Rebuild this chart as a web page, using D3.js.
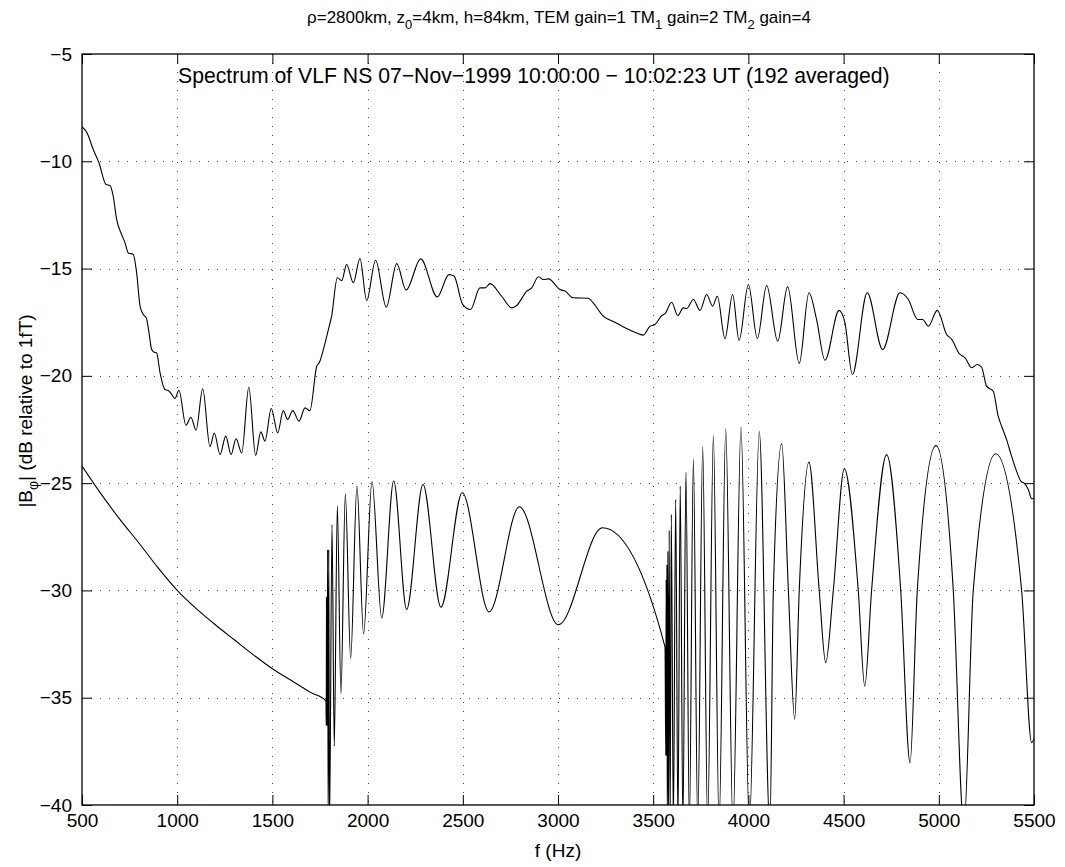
<!DOCTYPE html>
<html>
<head>
<meta charset="utf-8">
<script src="https://cdn.jsdelivr.net/npm/d3@7"></script>
<style>
  body { margin: 0; background: #fff; }
  text { font-family: "Liberation Sans", Arial, Helvetica, sans-serif; fill: #000; }
</style>
</head>
<body>
<div id="canvas"></div>
<script>
"use strict"

/* Measured VLF spectrum: [frequency (Hz), |B_phi| (dB relative to 1fT)] */
let measuredSpectrum = [
  [500, -8.39], [528, -8.7], [559, -9.45], [589, -10.07], [626, -11.08], [647, -11.13],
  [664, -11.63], [682, -12.71], [708, -13.41], [726, -13.8], [743, -14.27], [769, -14.34],
  [787, -15.2], [805, -16.75], [822, -17.14], [838, -17.3], [852, -18.0], [866, -18.77],
  [880, -18.9], [892, -18.93], [910, -19.86], [936, -20.64], [953, -20.68], [970, -20.85],
  [988, -21.06], [1009, -20.67], [1046, -22.3], [1072, -21.93], [1099, -22.53], [1134, -20.6],
  [1172, -23.3], [1195, -22.66], [1225, -23.67], [1255, -22.81], [1283, -23.67], [1309, -22.93],
  [1339, -23.59], [1376, -20.53], [1412, -23.71], [1439, -22.61], [1461, -23.04], [1494, -21.52],
  [1528, -22.66], [1557, -21.62], [1580, -22.03], [1607, -21.62], [1640, -22.11], [1671, -21.49],
  [1697, -21.62], [1733, -19.55], [1746, -19.39], [1770, -18.7], [1794, -17.84], [1811, -17.22],
  [1841, -15.43], [1864, -15.56], [1890, -14.81], [1925, -15.66], [1960, -14.53], [1995, -16.49],
  [2042, -14.61], [2098, -16.8], [2153, -14.77], [2202, -16.0], [2279, -14.55], [2366, -16.32],
  [2427, -15.28], [2454, -15.35], [2499, -16.67], [2541, -16.91], [2590, -15.9], [2617, -15.9],
  [2643, -15.7], [2704, -16.29], [2757, -16.83], [2783, -16.72], [2836, -16.05], [2862, -15.9],
  [2897, -15.38], [2923, -15.51], [2950, -15.48], [3011, -15.98], [3037, -16.05], [3080, -16.36],
  [3159, -16.38], [3185, -16.6], [3238, -17.22], [3299, -17.5], [3352, -17.76], [3404, -17.97],
  [3448, -18.1], [3483, -17.69], [3509, -17.61], [3545, -17.19], [3562, -17.1], [3597, -16.57],
  [3629, -17.19], [3658, -16.83], [3676, -16.86], [3711, -16.44], [3746, -16.95], [3781, -16.21],
  [3812, -16.75], [3837, -16.29], [3877, -18.27], [3917, -16.21], [3951, -18.35], [4000, -15.74],
  [4047, -18.26], [4096, -15.79], [4154, -18.38], [4206, -15.84], [4267, -19.42], [4318, -16.13],
  [4358, -17.37], [4402, -19.27], [4476, -16.95], [4507, -17.53], [4546, -19.94], [4624, -16.13],
  [4705, -18.77], [4796, -16.13], [4840, -16.44], [4889, -17.37], [4915, -17.37], [4945, -17.69],
  [4992, -16.95], [5041, -18.07], [5068, -18.3], [5108, -18.97], [5138, -19.16], [5173, -19.62],
  [5202, -19.47], [5225, -19.6], [5251, -20.48], [5286, -20.72], [5312, -21.88], [5330, -22.35],
  [5356, -22.97], [5382, -23.74], [5405, -24.36], [5431, -24.91], [5452, -25.03], [5470, -25.3],
  [5488, -25.73], [5500, -25.7]
];

/* Waveguide model (TEM + TM1 + TM2), nulls below -40 run off the axis */
let modelSpectrum = [
  [500, -24.2], [600, -25.5], [700, -26.7], [800, -27.8], [900, -28.95], [1000, -30.0],
  [1100, -30.85], [1200, -31.6], [1300, -32.3], [1400, -33.0], [1500, -33.65], [1600, -34.2],
  [1700, -34.75], [1781, -35.15], [1783, -36.3], [1784, -30.3], [1785, -36.3], [1786, -30.3],
  [1788, -36.3], [1790, -28.1], [1793, -41], [1796, -28.1], [1800, -41], [1813, -26.93],
  [1825, -37.26], [1841, -26.07], [1860, -34.82], [1883, -25.5], [1911, -33.17], [1944, -25.14],
  [1979, -32.02], [2023, -24.92], [2074, -31.28], [2137, -24.9], [2205, -30.89], [2291, -25.06],
  [2385, -30.78], [2497, -25.45], [2638, -31.0], [2797, -26.1], [3002, -31.6], [3233, -27.08],
  [3562, -32.63], [3566, -37.7], [3568, -29.5], [3570, -37.7], [3572, -28.8], [3574, -41],
  [3577, -28.17], [3580, -41], [3584, -27.2], [3589, -41], [3595, -26.46], [3606, -41],
  [3618, -25.76], [3630, -41], [3642, -25.14], [3656, -41], [3672, -24.49], [3690, -41],
  [3711, -23.87], [3734, -41], [3760, -23.3], [3786, -41], [3816, -22.78], [3846, -41],
  [3881, -22.47], [3919, -41], [3961, -22.37], [4005, -41], [4057, -22.59], [4113, -41],
  [4131, -30], [4175, -23.17], [4210, -30], [4243, -36.0], [4267, -30], [4318, -24.02],
  [4372, -30], [4406, -33.37], [4446, -30], [4504, -24.33], [4577, -30], [4611, -34.46],
  [4647, -30], [4726, -23.67], [4800, -30], [4849, -38.03], [4887, -30], [4985, -23.25],
  [5076, -30], [5132, -41], [5181, -30], [5299, -23.63], [5435, -30], [5488, -37.1],
  [5500, -36.9]
];

let xTickValues = [500, 1000, 1500, 2000, 2500, 3000, 3500, 4000, 4500, 5000, 5500];
let yTickValues = [-5, -10, -15, -20, -25, -30, -35, -40];

/* Title pieces: [text, is subscript] */
let titleParts = [["ρ=2800km, z", false], ["0", true], ["=4km, h=84km, TEM gain=1 TM", false],
                  ["1", true], [" gain=2 TM", false], ["2", true], [" gain=4", false]];
let yLabelParts = [["|B", false], ["φ", true], ["| (dB relative to 1fT)", false]];
let noteText = "Spectrum of VLF NS 07\u2212Nov\u22121999 10:00:00 \u2212 10:02:23 UT (192 averaged)";
let xLabelText = "f (Hz)";

/* Configuration variables: drawing */
let svgWidth = 1065;
let svgHeight = 867;
let plotLeft = 82;
let plotRight = 1034;
let plotTop = 54;
let plotBottom = 805;
let fontSize = 19;

let svg = d3.select("#canvas")
    .append("svg")
    .attr("width", svgWidth)
    .attr("height", svgHeight);

svg.append("rect")
    .attr("width", svgWidth)
    .attr("height", svgHeight)
    .attr("fill", "white");

let xScale = d3.scaleLinear()
    .domain([500, 5500])
    .range([plotLeft, plotRight]);

let yScale = d3.scaleLinear()
    .domain([-40, -5])
    .range([plotBottom, plotTop]);

/* Dotted grid */
svg.append("g")
    .selectAll("line")
    .data(xTickValues.slice(1, -1))
    .join("line")
    .attr("x1", d => Math.round(xScale(d)) + 0.5)
    .attr("x2", d => Math.round(xScale(d)) + 0.5)
    .attr("y1", plotTop)
    .attr("y2", plotBottom)
    .attr("stroke", "#444")
    .attr("stroke-dasharray", "1,8");

svg.append("g")
    .selectAll("line")
    .data(yTickValues.slice(1, -1))
    .join("line")
    .attr("x1", plotLeft)
    .attr("x2", plotRight)
    .attr("y1", d => Math.round(yScale(d)) + 0.5)
    .attr("y2", d => Math.round(yScale(d)) + 0.5)
    .attr("stroke", "#444")
    .attr("stroke-dasharray", "1,8");

/* Curves, clipped to the axes box */
svg.append("clipPath")
    .attr("id", "plotClip")
    .append("rect")
    .attr("x", plotLeft)
    .attr("y", plotTop)
    .attr("width", plotRight - plotLeft)
    .attr("height", plotBottom - plotTop);

let line = d3.line()
    .x(d => xScale(d[0]))
    .y(d => yScale(d[1]))
    .curve(d3.curveMonotoneX);

[measuredSpectrum, modelSpectrum].forEach(function (series) {
    svg.append("path")
        .datum(series)
        .attr("clip-path", "url(#plotClip)")
        .attr("fill", "none")
        .attr("stroke", "black")
        .attr("stroke-width", 1.1)
        .attr("d", line);
});

/* Axes with inward ticks on all four sides */
function styleAxis(g) {
    g.select(".domain").remove();
    g.attr("font-family", "\"Liberation Sans\", Arial, sans-serif")
        .attr("font-size", fontSize);
}

svg.append("g")
    .attr("transform", "translate(0," + plotBottom + ")")
    .call(d3.axisBottom(xScale).tickValues(xTickValues).tickFormat(d3.format("d"))
        .tickSizeInner(-10).tickSizeOuter(0).tickPadding(9))
    .call(styleAxis);

svg.append("g")
    .attr("transform", "translate(0," + plotTop + ")")
    .call(d3.axisTop(xScale).tickValues(xTickValues).tickSizeInner(-10).tickSizeOuter(0).tickFormat(""))
    .call(styleAxis);

svg.append("g")
    .attr("transform", "translate(" + plotLeft + ",0)")
    .call(d3.axisLeft(yScale).tickValues(yTickValues).tickSizeInner(-10).tickSizeOuter(0).tickPadding(10))
    .call(styleAxis);

svg.append("g")
    .attr("transform", "translate(" + plotRight + ",0)")
    .call(d3.axisRight(yScale).tickValues(yTickValues).tickSizeInner(-10).tickSizeOuter(0).tickFormat(""))
    .call(styleAxis);

/* Axes box */
svg.append("rect")
    .attr("x", plotLeft)
    .attr("y", plotTop)
    .attr("width", plotRight - plotLeft)
    .attr("height", plotBottom - plotTop)
    .attr("fill", "none")
    .attr("stroke", "black")
    .attr("stroke-width", 1.3);

/* Text with subscripts */
function addParts(textSel, parts, size, subSize, shift) {
    parts.forEach(function (p, i) {
        let prevSub = i > 0 && parts[i - 1][1];
        let dy = p[1] ? shift : (prevSub ? -shift : 0);
        textSel.append("tspan")
            .attr("dy", dy)
            .attr("font-size", p[1] ? subSize : size)
            .text(p[0]);
    });
}

let title = svg.append("text")
    .attr("x", 559)
    .attr("y", 23)
    .attr("text-anchor", "middle");
addParts(title, titleParts, 17, 13, 6);

svg.append("text")
    .attr("x", 178)
    .attr("y", 83)
    .attr("font-size", 21.2)
    .text(noteText);

svg.append("text")
    .attr("x", (plotLeft + plotRight) / 2)
    .attr("y", 857)
    .attr("text-anchor", "middle")
    .attr("font-size", fontSize)
    .text(xLabelText);

let yLabel = svg.append("text")
    .attr("transform", "translate(32,411) rotate(-90)")
    .attr("text-anchor", "middle");
addParts(yLabel, yLabelParts, fontSize, 14, 6);
</script>
</body>
</html>
